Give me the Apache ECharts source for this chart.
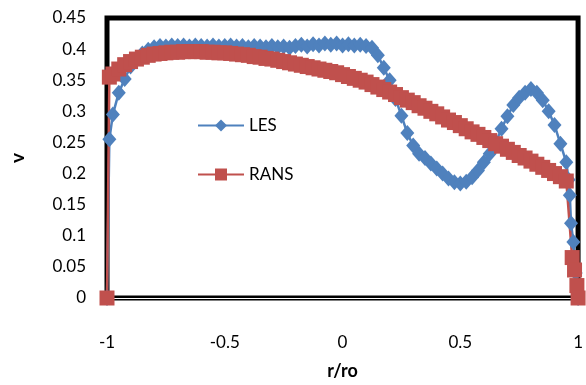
<!DOCTYPE html>
<html>
<head>
<meta charset="utf-8">
<script src="https://cdn.jsdelivr.net/npm/echarts@6/dist/echarts.min.js"></script>
<style>
html,body{margin:0;padding:0;background:#fff;}
#chart{width:586px;height:385px;}
</style>
</head>
<body>
<div id="chart"></div>
<script>
const lesX = [-1,-0.99,-0.975,-0.95,-0.925,-0.9,-0.875,-0.85,-0.825,-0.8,-0.775,-0.75,-0.725,-0.7,-0.675,-0.65,-0.625,-0.6,-0.575,-0.55,-0.525,-0.5,-0.475,-0.45,-0.425,-0.4,-0.375,-0.35,-0.325,-0.3,-0.275,-0.25,-0.225,-0.2,-0.175,-0.15,-0.125,-0.1,-0.075,-0.05,-0.025,0,0.025,0.05,0.075,0.1,0.125,0.15,0.175,0.2,0.225,0.25,0.275,0.3,0.325,0.35,0.375,0.4,0.425,0.45,0.475,0.5,0.525,0.55,0.575,0.6,0.625,0.65,0.675,0.7,0.725,0.75,0.775,0.8,0.825,0.85,0.875,0.9,0.925,0.95,0.96,0.965,0.97,0.98,0.99,1];
const lesV = [0,0.255,0.295,0.33,0.352,0.372,0.385,0.393,0.399,0.403,0.405,0.404,0.406,0.405,0.406,0.404,0.406,0.405,0.404,0.406,0.404,0.405,0.406,0.404,0.405,0.403,0.405,0.404,0.403,0.405,0.403,0.404,0.402,0.405,0.407,0.404,0.408,0.406,0.409,0.407,0.409,0.406,0.408,0.406,0.407,0.405,0.402,0.39,0.37,0.35,0.32,0.293,0.265,0.245,0.232,0.225,0.216,0.208,0.2,0.192,0.186,0.184,0.187,0.194,0.205,0.218,0.232,0.25,0.272,0.292,0.31,0.322,0.33,0.336,0.33,0.318,0.3,0.278,0.248,0.218,0.19,0.165,0.12,0.09,0.04,0];
const ransX = [-1,-0.99,-0.975,-0.95,-0.925,-0.9,-0.875,-0.85,-0.825,-0.8,-0.775,-0.75,-0.725,-0.7,-0.675,-0.65,-0.625,-0.6,-0.575,-0.55,-0.525,-0.5,-0.475,-0.45,-0.425,-0.4,-0.375,-0.35,-0.325,-0.3,-0.275,-0.25,-0.225,-0.2,-0.175,-0.15,-0.125,-0.1,-0.075,-0.05,-0.025,0,0.025,0.05,0.075,0.1,0.125,0.15,0.175,0.2,0.225,0.25,0.275,0.3,0.325,0.35,0.375,0.4,0.425,0.45,0.475,0.5,0.525,0.55,0.575,0.6,0.625,0.65,0.675,0.7,0.725,0.75,0.775,0.8,0.825,0.85,0.875,0.9,0.925,0.95,0.975,0.985,0.995,1];
const ransV = [0,0.355,0.36,0.368,0.375,0.38,0.384,0.387,0.39,0.392,0.393,0.394,0.395,0.395,0.396,0.396,0.396,0.396,0.395,0.395,0.394,0.394,0.393,0.392,0.391,0.39,0.388,0.387,0.385,0.384,0.382,0.38,0.378,0.376,0.374,0.372,0.37,0.368,0.366,0.364,0.362,0.359,0.356,0.353,0.35,0.347,0.343,0.339,0.335,0.331,0.327,0.322,0.318,0.314,0.309,0.305,0.3,0.296,0.291,0.286,0.282,0.277,0.272,0.267,0.263,0.258,0.253,0.248,0.244,0.239,0.234,0.229,0.225,0.22,0.215,0.21,0.205,0.2,0.195,0.188,0.065,0.045,0.02,0];
const xTicks = ['-1','-0.5','0','0.5','1'];
const yTicks = ['0','0.05','0.1','0.15','0.2','0.25','0.3','0.35','0.4','0.45'];

const FONT = 'Lato, "Open Sans", sans-serif';
const chart = echarts.init(document.getElementById('chart'), null, {renderer:'canvas'});
chart.setOption({
  animation:false,
  backgroundColor:'#fff',
  grid:{left:104,right:4,top:18,bottom:80,show:true,borderColor:'#000',borderWidth:5,backgroundColor:'transparent'},
  legend:{
    orient:'vertical',left:192,top:112,itemWidth:46,itemHeight:15,itemGap:32,
    textStyle:{fontFamily:FONT,fontSize:17,color:'#000'},
    data:['LES','RANS']
  },
  xAxis:{
    type:'value',min:-1,max:1,interval:0.5,
    name:'r/ro',nameLocation:'middle',nameGap:64,
    nameTextStyle:{fontFamily:FONT,fontSize:18,fontWeight:'bold',color:'#000'},
    axisLine:{show:true,onZero:false,lineStyle:{color:'#fff',width:1}},
    axisTick:{show:false},splitLine:{show:false},
    axisLabel:{margin:36,fontFamily:FONT,fontSize:17,color:'#000',
      formatter:function(v){const s=String(Math.round(v*10)/10);const i=xTicks.indexOf(s);return i>=0?xTicks[i]:s;}}
  },
  yAxis:{
    type:'value',min:0,max:0.45,interval:0.05,
    name:'v',nameLocation:'middle',nameGap:80,nameRotate:90,
    nameTextStyle:{fontFamily:FONT,fontSize:19,fontWeight:'bold',color:'#000'},
    axisLine:{show:false},axisTick:{show:false},splitLine:{show:false},
    axisLabel:{margin:21,fontFamily:FONT,fontSize:17,color:'#000',
      formatter:function(v){const s=String(Math.round(v*100)/100);const i=yTicks.indexOf(s);return i>=0?yTicks[i]:s;}}
  },
  series:[
    {name:'LES',type:'line',clip:false,data:lesX.map((x,i)=>[x,lesV[i]]),
     symbol:'diamond',symbolSize:[14,16],
     itemStyle:{color:'#4F81BD'},lineStyle:{color:'#4F81BD',width:2.5}},
    {name:'RANS',type:'line',clip:false,data:ransX.map((x,i)=>[x,ransV[i]]),
     symbol:'rect',symbolSize:15,
     itemStyle:{color:'#C0504D'},lineStyle:{color:'#C0504D',width:2.5}}
  ]
});
</script>
</body>
</html>
